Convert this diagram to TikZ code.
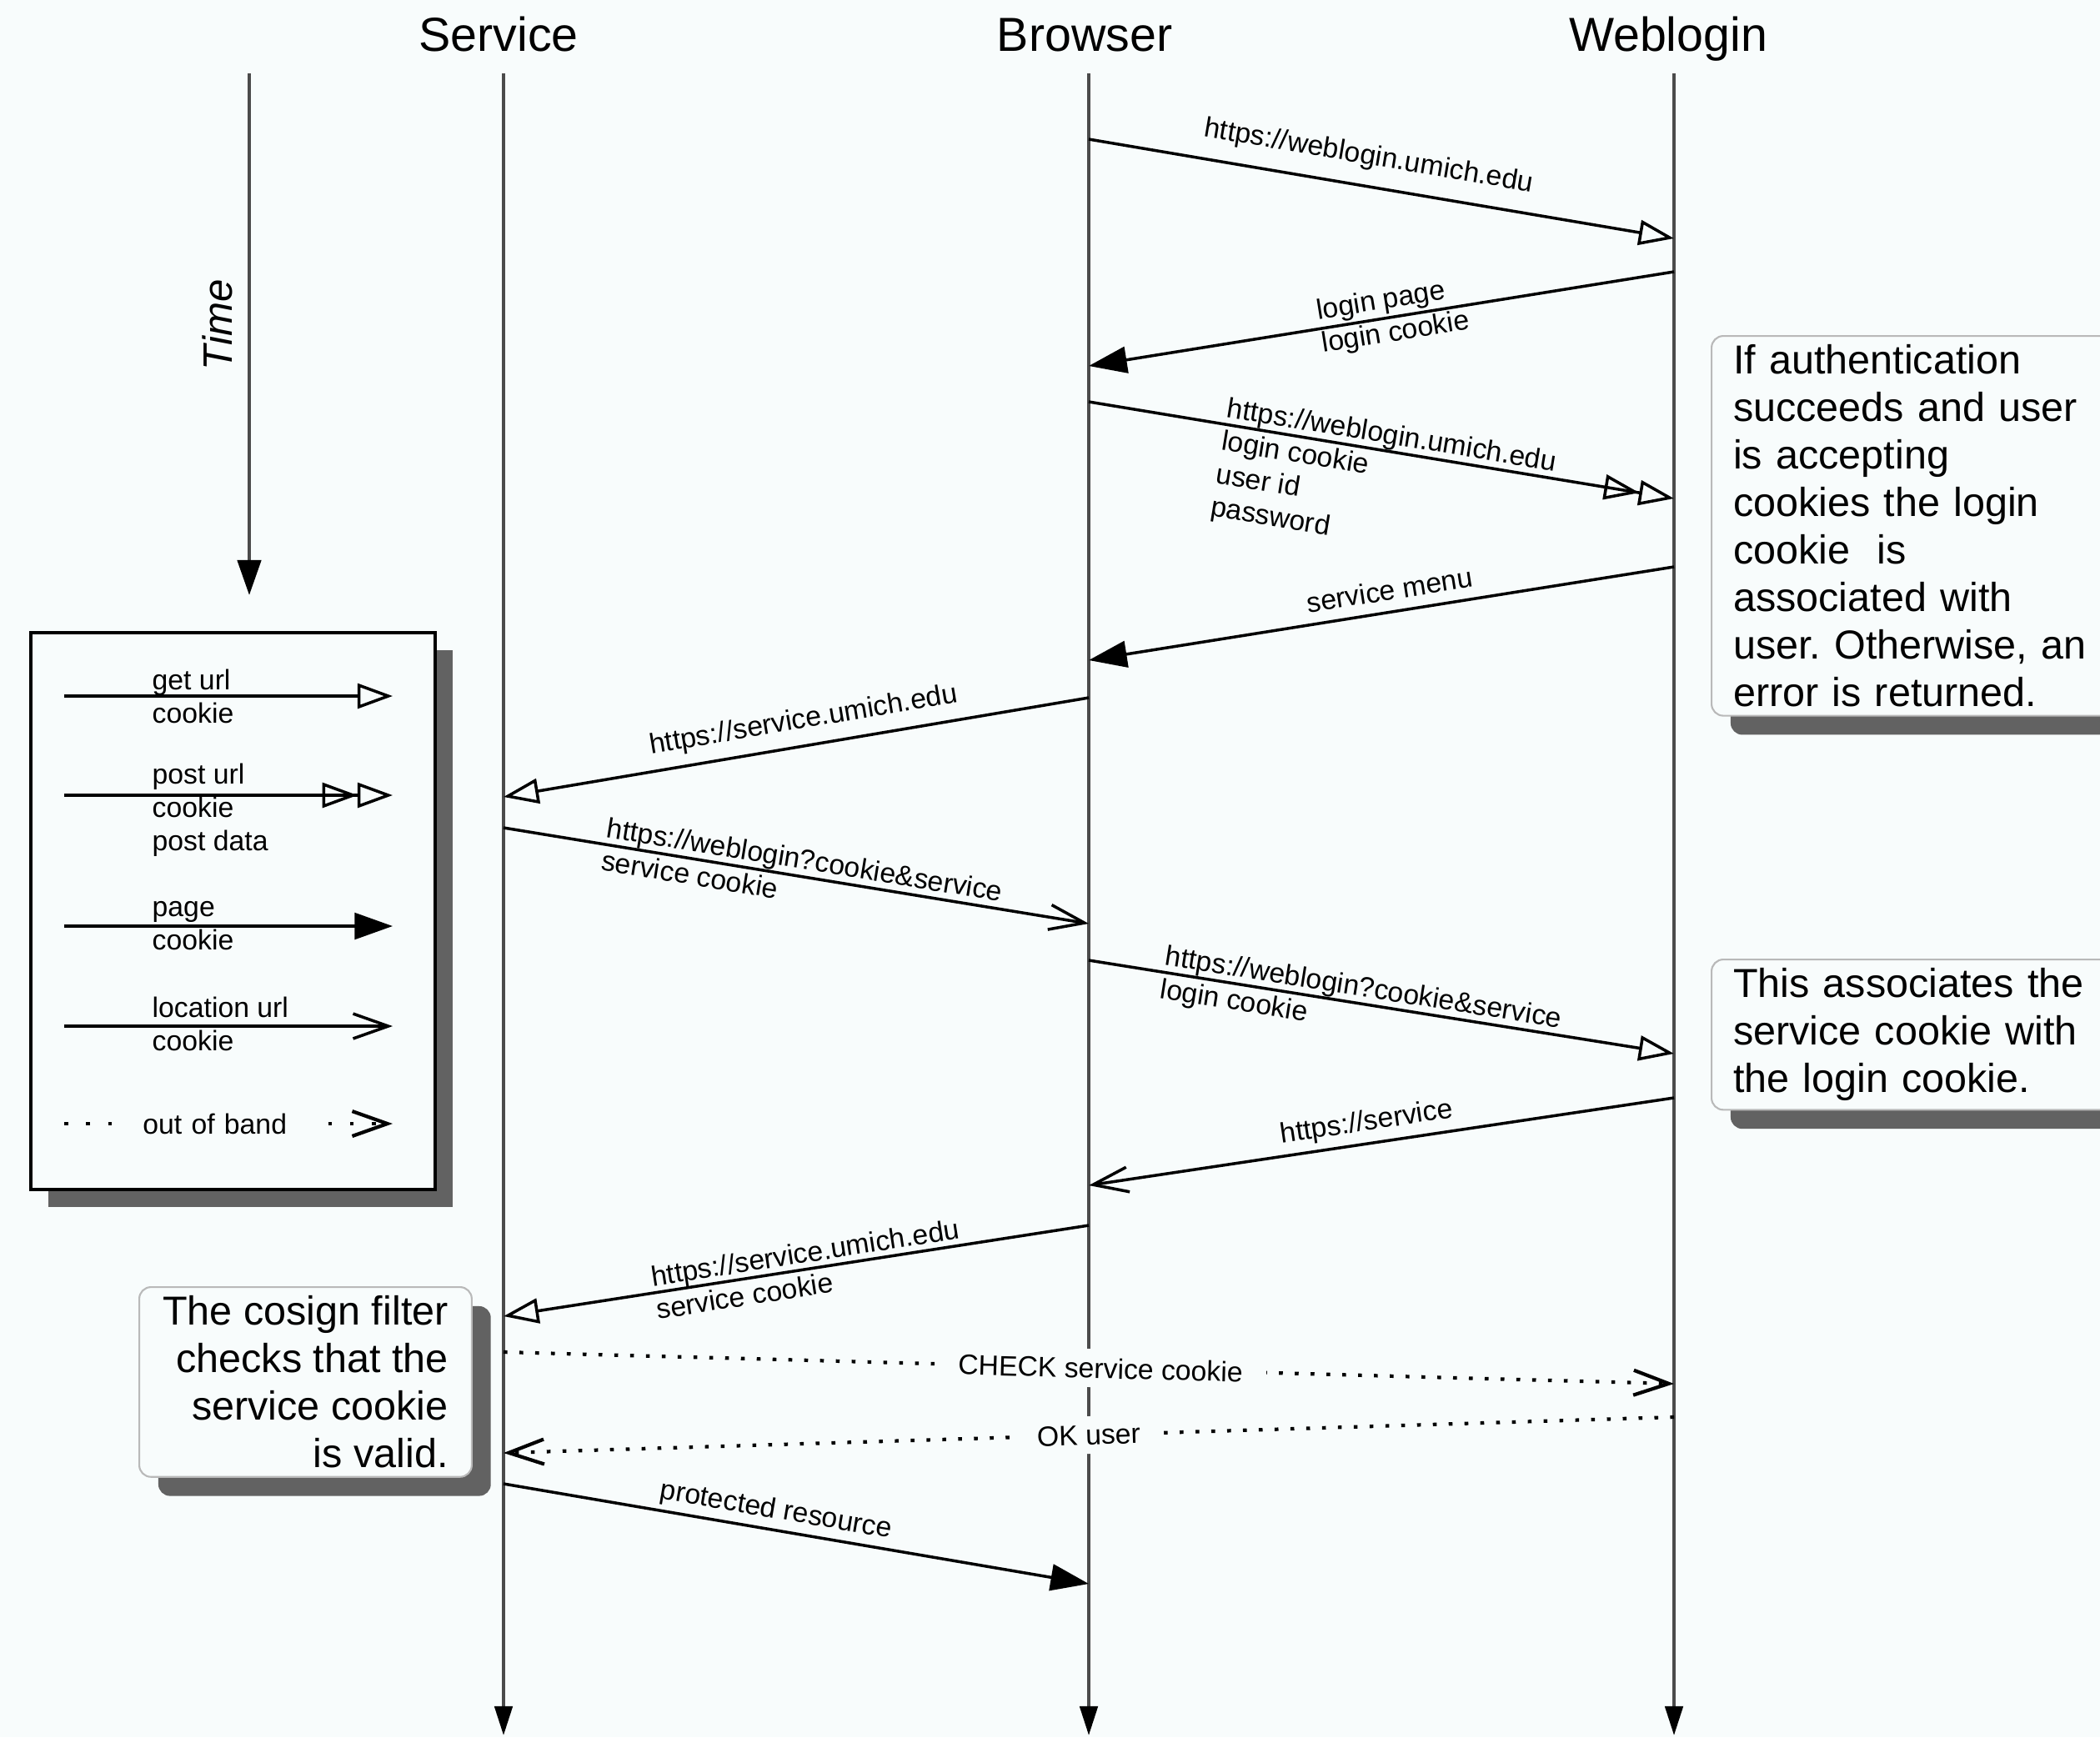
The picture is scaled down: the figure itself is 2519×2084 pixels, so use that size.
\documentclass[tikz,border=0pt]{standalone}
\usepackage{fontspec}
\setmainfont{Liberation Sans}
\usetikzlibrary{arrows.meta,shadows}
\definecolor{paper}{RGB}{248,252,252}
\definecolor{lifegray}{RGB}{75,75,75}
\definecolor{shadegray}{RGB}{98,98,98}
\definecolor{rimgray}{RGB}{185,185,185}
\frenchspacing
\tikzset{
  actor/.style={font=\fontsize{16.3}{19}\selectfont, inner sep=0pt, anchor=base},
  life/.style={draw=lifegray, line width=1.3pt, -{Triangle[length=10pt,width=6pt,color=black]}},
  msg/.style={line width=1pt},
  getmsg/.style={msg, -{Triangle[open,length=12pt,width=8.5pt]}},
  postmsg/.style={msg, -{Triangle[open,length=12pt,width=8.5pt]Triangle[open,length=12pt,width=8.5pt]}},
  pagemsg/.style={msg, -{Triangle[length=13pt,width=9pt]}},
  locmsg/.style={msg, -{Straight Barb[length=12pt,width=8.5pt]}},
  oobmsg/.style={locmsg, line width=1.2pt, dash pattern=on 1.3pt off 4.1pt},
  lbl/.style={font=\fontsize{9.6}{11.4}\selectfont, inner sep=0pt},
  gaplbl/.style={lbl, fill=paper, inner xsep=8pt, inner ysep=3pt},
  note/.style={draw=rimgray, line width=.6pt, fill=paper, rounded corners=4pt,
    font=\fontsize{13.8}{16.2}\selectfont, inner xsep=7.4pt, inner ysep=3pt,
    drop shadow={shadow xshift=6.5pt, shadow yshift=-6.5pt, fill=shadegray, opacity=1}}
}
\begin{document}
\begin{tikzpicture}[x=.01cm, y=-.01cm]
  \path[use as bounding box, fill=paper] (0,0) rectangle (2519,2084);
  \clip (0,0) rectangle (2519,2084);

  % lifelines
  \node[actor] (service) at (598,61) {Service};
  \node[actor] (browser) at (1301,61) {Browser};
  \node[actor] (weblogin) at (2001,61) {Weblogin};
  \coordinate (s0) at (604,88);  \coordinate (s1) at (604,2082);
  \coordinate (b0) at (1306,88); \coordinate (b1) at (1306,2082);
  \coordinate (w0) at (2008,88); \coordinate (w1) at (2008,2082);
  \draw[life] (s0) -- (s1);
  \draw[life] (b0) -- (b1);
  \draw[life] (w0) -- (w1);

  % time axis
  \coordinate (t0) at (299,88); \coordinate (t1) at (299,714);
  \draw[draw=lifegray, line width=1.3pt, -{Triangle[length=12pt,width=8pt,color=black]}] (t0) -- (t1);
  \node[font=\fontsize{14}{16}\selectfont\itshape, rotate=90, inner sep=0pt] (time) at (261,390) {Time};

  % message ends
  \foreach \n/\x/\y in {m1a/1306/167, m1b/2008/286, m2a/2008/326, m2b/1306/439,
      m3a/1306/482, m3b/2008/598, m4a/2008/680, m4b/1306/792,
      m5a/1306/837, m5b/604/956, m6a/604/993, m6b/1306/1108,
      m7a/1306/1152, m7b/2008/1264, m8a/2008/1317, m8b/1306/1422,
      m9a/1306/1470, m9b/604/1579, m10a/604/1622, m10b/2008/1660,
      m11a/2008/1700, m11b/604/1743, m12a/604/1780, m12b/1306/1900}
    \coordinate (\n) at (\x,\y);

  % messages
  \draw[getmsg] (m1a) -- node[lbl, sloped, pos=.47, above=5pt] {https://weblogin.umich.edu} (m1b);
  \draw[pagemsg] (m2a) -- node[lbl, sloped, pos=.48, align=left] {login page\\login cookie} (m2b);
  \draw[postmsg] (m3a) -- node[lbl, sloped, pos=.23, anchor=north west, yshift=10pt, align=left]
    {https://weblogin.umich.edu\\login cookie\\user id\\password} (m3b);
  \draw[pagemsg] (m4a) -- node[lbl, sloped, pos=.48, above=3.5pt] {service menu} (m4b);
  \draw[getmsg] (m5a) -- node[lbl, sloped, pos=.48, above=3.5pt] {https://service.umich.edu} (m5b);
  \draw[locmsg] (m6a) -- node[lbl, sloped, pos=.17, anchor=north west, yshift=10pt, align=left]
    {https://weblogin?cookie\&service\\service cookie} (m6b);
  \draw[getmsg] (m7a) -- node[lbl, sloped, pos=.125, anchor=north west, yshift=10pt, align=left]
    {https://weblogin?cookie\&service\\login cookie} (m7b);
  \draw[locmsg] (m8a) -- node[lbl, sloped, pos=.52, above=2pt] {https://service} (m8b);
  \draw[getmsg] (m9a) -- node[lbl, sloped, pos=.48, align=left] {https://service.umich.edu\\service cookie} (m9b);
  \draw[oobmsg] (m10a) -- node[gaplbl, sloped, pos=.51] {CHECK service cookie} (m10b);
  \draw[oobmsg] (m11a) -- node[gaplbl, sloped, pos=.5] {OK user} (m11b);
  \draw[pagemsg] (m12a) -- node[lbl, sloped, pos=.46, above=1.5pt] {protected resource} (m12b);

  % legend
  \node[draw, line width=1.1pt, fill=paper, minimum width=138pt, minimum height=190pt,
    anchor=north west, inner sep=0pt,
    drop shadow={shadow xshift=6pt, shadow yshift=-6pt, fill=shadegray, opacity=1}] (legend) at (35,757) {};
  \foreach \i/\y in {1/835,2/954,3/1111,4/1231,5/1348}{
    \coordinate (ka\i) at (77,\y);
    \coordinate (kb\i) at (471,\y);
  }
  \draw[getmsg] (ka1) -- (kb1);
  \draw[postmsg] (ka2) -- (kb2);
  \draw[pagemsg] (ka3) -- (kb3);
  \draw[locmsg] (ka4) -- (kb4);
  \draw[oobmsg, dash pattern=on 1.3pt off 6.2pt] (ka5) -- node[lbl, pos=.485, fill=paper, inner xsep=6.5pt,
    inner ysep=2pt, text width=55pt, align=left] {out of band} (kb5);
  \node[lbl, anchor=west, align=left] (k1) at (182,835) {get url\\cookie};
  \node[lbl, anchor=west, align=left] (k2) at (182,972) {post url\\cookie\\post data};
  \node[lbl, anchor=west, align=left] (k3) at (182,1111) {page\\cookie};
  \node[lbl, anchor=west, align=left] (k4) at (182,1228) {location url\\cookie};

  % notes
  \node[note, anchor=north west, text width=130pt, align=left] (authnote) at (2052,402)
    {If authentication\\succeeds and user\\is accepting\\cookies the login\\cookie~~is\\associated with\\user. Otherwise, an\\error is returned.};
  \node[note, anchor=north west, text width=130pt, align=left] (assocnote) at (2052,1150)
    {This associates the\\service cookie with\\the login cookie.};
  \node[note, anchor=north west, align=right, inner xsep=8pt] (filternote) at (166,1543)
    {The cosign filter\\checks that the\\service cookie\\is valid.};
\end{tikzpicture}
\end{document}
